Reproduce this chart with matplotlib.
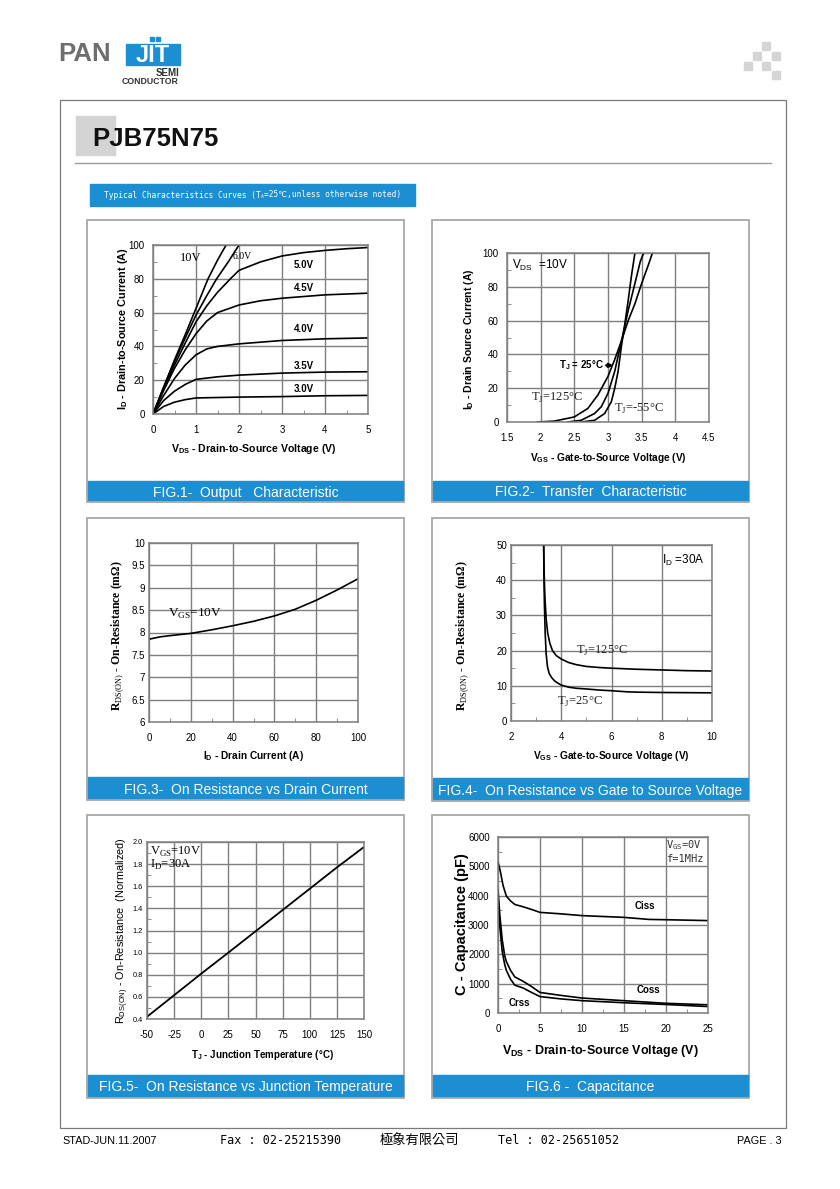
import numpy as np
import matplotlib.pyplot as plt
from matplotlib import font_manager
from matplotlib.patches import Rectangle
from matplotlib.ticker import MultipleLocator, FormatStrFormatter

plt.rcParams['font.family'] = ['Liberation Sans', 'DejaVu Sans']
plt.rcParams['mathtext.fontset'] = 'custom'
plt.rcParams['mathtext.rm'] = 'Liberation Sans'
plt.rcParams['mathtext.bf'] = 'Liberation Sans:bold'
plt.rcParams['mathtext.sf'] = 'Liberation Serif'
plt.rcParams['mathtext.it'] = 'Liberation Sans:italic'
plt.rcParams['axes.unicode_minus'] = False

W, H = 840, 1189
BLUE = '#1c8fd3'
GRID = '#7f7f7f'
FRAME = '#a8a8a8'

# ---- FIG.1 output characteristic (VDS, ID) ----
vgs_labels = ['10V', '6.0V', '5.0V', '4.5V', '4.0V', '3.5V', '3.0V']
vds_10 = [0, 0.25, 0.5, 0.75, 1.0, 1.28, 1.5, 1.7]
id_10 = [0, 16, 32, 47, 62.5, 80, 91, 100]
vds_6 = [0, 0.25, 0.5, 0.75, 1.0, 1.25, 1.48, 1.75, 2.0]
id_6 = [0, 16, 31, 45, 58.5, 70, 80, 90, 100]
vds_5 = [0, 0.25, 0.5, 0.75, 1.0, 1.25, 1.5, 1.8, 2.0, 2.5, 3.0, 3.5, 4.0, 4.5, 5.0]
id_5 = [0, 15, 29, 42, 54.5, 64, 72, 80, 85, 90, 93.5, 95.5, 96.8, 97.8, 98.5]
vds_45 = [0, 0.25, 0.5, 0.75, 1.0, 1.25, 1.5, 2.0, 2.5, 3.0, 4.0, 5.0]
id_45 = [0, 14, 27, 38, 47.5, 55, 60, 64.5, 67, 68.5, 70.5, 71.5]
vds_4 = [0, 0.25, 0.5, 0.75, 1.0, 1.25, 1.5, 2.0, 3.0, 4.0, 5.0]
id_4 = [0, 11, 21, 29, 35, 38.5, 40, 41.5, 43.5, 44.5, 45]
vds_35 = [0, 0.25, 0.5, 0.75, 1.0, 1.5, 2.0, 3.0, 4.0, 5.0]
id_35 = [0, 8, 13.5, 17.5, 20.5, 22, 23, 24.2, 24.8, 25]
vds_3 = [0, 0.25, 0.5, 0.75, 1.0, 2.0, 3.0, 4.0, 5.0]
id_3 = [0, 4.5, 7, 8.5, 9.5, 10, 10.3, 10.8, 11]

# ---- FIG.2 transfer characteristic (VGS, ID) ----
vgs_125 = [1.95, 2.2, 2.5, 2.7, 2.85, 3.0, 3.1, 3.2, 3.3, 3.4, 3.5, 3.6, 3.66]
id_125 = [0, 0.5, 3, 8, 16, 27, 37, 48, 60, 70, 82, 93, 100]
vgs_25 = [2.4, 2.6, 2.8, 2.9, 3.0, 3.1, 3.2, 3.3, 3.4, 3.48, 3.53]
id_25 = [0, 1, 5, 9, 17, 30, 48, 66, 82, 95, 100]
vgs_m55 = [2.6, 2.8, 2.95, 3.05, 3.1, 3.15, 3.2, 3.25, 3.3, 3.35, 3.40]
id_m55 = [0, 1, 5, 12, 20, 30, 45, 58, 72, 87, 100]

# ---- FIG.3 on resistance vs drain current ----
id_fig3 = [0, 5, 10, 20, 30, 40, 50, 60, 70, 80, 90, 100]
rds_fig3 = [7.85, 7.9, 7.93, 7.98, 8.06, 8.15, 8.25, 8.37, 8.52, 8.72, 8.95, 9.2]

# ---- FIG.4 on resistance vs gate voltage ----
vgs4_25 = [3.30, 3.31, 3.33, 3.36, 3.40, 3.45, 3.52, 3.62, 3.75, 3.9, 4.0, 4.3, 4.6,
           5.0, 5.5, 6.0, 6.6, 7.0, 8.0, 9.0, 10.0]
rds4_25 = [50, 42, 33, 25, 19, 15.5, 13.5, 12.3, 11.3, 10.6, 10.2, 9.6, 9.3,
           9.1, 8.8, 8.6, 8.3, 8.2, 8.1, 8.05, 8.0]
vgs4_125 = [3.30, 3.32, 3.35, 3.40, 3.46, 3.55, 3.65, 3.8, 4.0, 4.3, 4.6, 5.0, 5.5,
            6.0, 7.0, 8.0, 9.0, 10.0]
rds4_125 = [50, 42, 35, 29, 25, 22, 20, 18.6, 17.6, 16.6, 16, 15.5, 15.2,
            15.0, 14.7, 14.5, 14.3, 14.2]

# ---- FIG.5 normalized on resistance vs temperature ----
tj = [-50, 0, 25, 75, 125, 150]
rds_norm = [0.42, 0.81, 1.0, 1.385, 1.77, 1.955]

# ---- FIG.6 capacitance ----
ciss_v = [0, 0.3, 0.6, 1, 1.5, 2, 3, 4, 5, 7.5, 10, 15, 18, 20, 25]
ciss = [5150, 4800, 4350, 3980, 3820, 3700, 3620, 3530, 3430, 3380, 3320, 3260, 3190, 3180, 3150]
coss_v = [0, 0.2, 0.5, 0.8, 1, 1.5, 2, 3, 4, 5, 7.5, 10, 15, 20, 25]
coss = [4200, 3400, 2500, 1950, 1750, 1450, 1230, 1080, 900, 700, 600, 510, 420, 330, 280]
crss_v = [0, 0.2, 0.5, 0.8, 1, 1.5, 2, 3, 4, 5, 7.5, 10, 15, 20, 25]
crss = [3900, 3000, 2100, 1650, 1450, 1150, 950, 850, 700, 560, 480, 420, 350, 290, 220]

captions = ['FIG.1-  Output   Characteristic', 'FIG.2-  Transfer  Characteristic',
            'FIG.3-  On Resistance vs Drain Current',
            'FIG.4-  On Resistance vs Gate to Source Voltage',
            'FIG.5-  On Resistance vs Junction Temperature', 'FIG.6 -  Capacitance']

installed = {f.name for f in font_manager.fontManager.ttflist}
if 'Liberation Sans Narrow' in installed:
    NARROW, NARROW_SCALE = 'Liberation Sans Narrow', 1.0
else:
    NARROW, NARROW_SCALE = 'DejaVu Sans Mono', 0.71

fig = plt.figure(figsize=(8.4, 11.89), dpi=100)
bg = fig.add_axes([0, 0, 1, 1])
bg.set_xlim(0, W)
bg.set_ylim(H, 0)
bg.axis('off')
renderer = fig.canvas.get_renderer()


def chain(x, y, parts, **kw):
    # draw text pieces one after another, (string, size, y shift)
    for s, size, dy in parts:
        t = bg.text(x, y + dy, s, fontsize=size, va='center', **kw)
        bb = t.get_window_extent(renderer=renderer)
        x = bg.transData.inverted().transform((bb.x1, bb.y0))[0]
    return x


# header / logo
bg.text(58, 54, 'PAN', fontsize=18.5, fontweight='bold', color='#6e6e6e', va='center')
bg.add_patch(Rectangle((126, 44), 54, 21, color=BLUE))
bg.text(153, 55, 'JIT', fontsize=17, fontweight='bold', color='white', va='center', ha='center')
bg.add_patch(Rectangle((150, 37), 4, 4, color=BLUE))
bg.add_patch(Rectangle((156, 37), 4, 4, color=BLUE))
bg.text(179, 73, 'SEMI', fontsize=7, fontweight='bold', color='#333333', ha='right', va='center')
bg.text(179, 82, 'CONDUCTOR', fontsize=6.3, fontweight='bold', color='#333333', ha='right', va='center')
for sx, sy in [(762, 42), (753, 52), (772, 52), (744, 62), (762, 62), (772, 71)]:
    bg.add_patch(Rectangle((sx, sy), 8, 8, color='#d5d5d5'))

bg.add_patch(Rectangle((60, 100), 726, 1028, fill=False, ec='#7a7a7a', lw=0.9))
bg.add_patch(Rectangle((76, 116), 39, 39, color='#d4d4d4'))
bg.text(92, 139, 'PJB75N75', fontsize=18.5, fontweight='bold', color='#111111', va='center')
bg.plot([75, 771], [163, 163], color='#9a9a9a', lw=1.0)
bg.add_patch(Rectangle((90, 184), 325, 22, color=BLUE))
bsz = 8 * NARROW_SCALE
chain(104, 195, [('Typical Characteristics Curves (T', bsz, 0), ('A', bsz * 0.6, 2),
                 ('=25℃,unless otherwise noted)', bsz, 0)],
      color='white', family=[NARROW, 'DejaVu Sans'])

# panels
panels = [(87, 220, 404, 502, 481), (432, 220, 749, 502, 481),
          (87, 518, 404, 800, 777), (432, 518, 749, 801, 778),
          (87, 815, 404, 1098, 1075), (432, 815, 749, 1098, 1075)]
for (px0, py0, px1, py1, by), cap in zip(panels, captions):
    bg.add_patch(Rectangle((px0, py0), px1 - px0, py1 - py0, fill=False, ec=FRAME, lw=1.3))
    bg.add_patch(Rectangle((px0 + 1, by), px1 - px0 - 2, py1 - by - 2, color=BLUE))
    bg.text((px0 + px1) / 2, (by + py1) / 2 + 1, cap, fontsize=10, color='white',
            ha='center', va='center')


def chart(x0, y0, x1, y1, xlim, ylim, xmaj, ymaj, xmin, ymin, fs=7, ypad=3):
    ax = fig.add_axes([x0 / W, 1 - y1 / H, (x1 - x0) / W, (y1 - y0) / H])
    ax.set_xlim(xlim)
    ax.set_ylim(ylim)
    ax.xaxis.set_major_locator(MultipleLocator(xmaj))
    ax.yaxis.set_major_locator(MultipleLocator(ymaj))
    if xmin:
        ax.xaxis.set_minor_locator(MultipleLocator(xmin))
    if ymin:
        ax.yaxis.set_minor_locator(MultipleLocator(ymin))
    ax.grid(True, which='major', color=GRID, lw=1.0)
    for s in ax.spines.values():
        s.set_color(GRID)
        s.set_linewidth(1.1)
    ax.tick_params(which='both', direction='in', color=GRID, labelsize=fs)
    ax.tick_params(which='major', length=0)
    ax.tick_params(axis='x', which='major', pad=8)
    ax.tick_params(axis='y', which='major', pad=ypad)
    ax.tick_params(which='minor', length=3)
    ax.set_axisbelow(True)
    return ax


# FIG.1
ax1 = chart(153, 245, 368, 414, (0, 5), (0, 100), 1, 20, 0.5, 10, ypad=6)
for vx, iy in [(vds_10, id_10), (vds_6, id_6), (vds_5, id_5), (vds_45, id_45),
               (vds_4, id_4), (vds_35, id_35), (vds_3, id_3)]:
    ax1.plot(vx, iy, color='black', lw=1.2)
ax1.text(0.62, 92.5, vgs_labels[0], fontsize=9, family='Liberation Serif', va='center')
ax1.text(1.85, 93, vgs_labels[1], fontsize=7, family='Liberation Serif', va='center')
for lab, yy in zip(vgs_labels[2:], [88, 74.5, 50, 28.5, 14.8]):
    ax1.text(3.5, yy, lab, fontsize=7, fontweight='bold', ha='center', va='center')
bg.text(254, 449, 'V$_\\mathbf{DS}$ - Drain-to-Source Voltage (V)', fontsize=7.6,
        fontweight='bold', ha='center', va='center')
bg.text(123, 329, 'I$_\\mathbf{D}$ - Drain-to-Source Current (A)', fontsize=7.8,
        fontweight='bold', ha='center', va='center', rotation=90)

# FIG.2
ax2 = chart(507, 253, 709, 422, (1.5, 4.5), (0, 100), 0.5, 20, None, 10, ypad=6)
ax2.xaxis.set_major_formatter(FormatStrFormatter('%g'))
for vx, iy in [(vgs_125, id_125), (vgs_25, id_25), (vgs_m55, id_m55)]:
    ax2.plot(vx, iy, color='black', lw=1.2)
ax2.text(1.57, 92.5, 'V$_\\mathregular{DS}$  =10V', fontsize=8.5, va='center')
ax2.annotate('T$_\\mathbf{J}$ = 25°C', xy=(3.08, 33.5), xytext=(2.27, 33.5), fontsize=7,
             fontweight='bold', va='center',
             arrowprops=dict(arrowstyle='-|>', color='black', lw=1.8, mutation_scale=5,
                             shrinkA=0, shrinkB=0))
ax2.text(1.85, 14, 'T$_\\mathsf{J}$=125°C', fontsize=9, family='Liberation Serif', va='center',
         color='#222222')
ax2.text(3.09, 8, 'T$_\\mathsf{J}$=-55°C', fontsize=9, family='Liberation Serif', va='center',
         color='#222222')
bg.text(608, 458, 'V$_\\mathbf{GS}$ - Gate-to-Source Voltage (V)', fontsize=7.3,
        fontweight='bold', ha='center', va='center')
bg.text(469, 339, 'I$_\\mathbf{D}$ - Drain Source Current (A)', fontsize=7.5,
        fontweight='bold', ha='center', va='center', rotation=90)

# FIG.3
ax3 = chart(149, 543, 358, 722, (0, 100), (6, 10), 20, 0.5, 10, None)
ax3.yaxis.set_major_formatter(FormatStrFormatter('%g'))
ax3.plot(id_fig3, rds_fig3, color='black', lw=1.2)
ax3.text(9, 8.42, 'V$_\\mathsf{GS}$=10V', fontsize=9.5, family='Liberation Serif', va='center')
bg.text(253, 756, 'I$_\\mathbf{D}$ - Drain Current (A)', fontsize=7.3,
        fontweight='bold', ha='center', va='center')
bg.text(118, 636, 'R$_\\mathsf{DS(ON)}$ - On-Resistance (mΩ)', fontsize=8.5,
        fontweight='bold', family='Liberation Serif', ha='center', va='center', rotation=90)

# FIG.4
ax4 = chart(511, 545, 712, 721, (2, 10), (0, 50), 2, 10, 1, 5)
ax4.plot(vgs4_125, rds4_125, color='black', lw=1.2)
ax4.plot(vgs4_25, rds4_25, color='black', lw=1.2)
ax4.text(8.0, 45.5, 'I$_\\mathregular{D}$ =30A', fontsize=8.5, va='center')
ax4.text(4.6, 20, 'T$_\\mathsf{J}$=125°C', fontsize=9, family='Liberation Serif', va='center',
         color='#222222')
ax4.text(3.82, 5.4, 'T$_\\mathsf{J}$=25°C', fontsize=9, family='Liberation Serif', va='center',
         color='#222222')
bg.text(611, 756, 'V$_\\mathbf{GS}$ - Gate-to-Source Voltage (V)', fontsize=7.3,
        fontweight='bold', ha='center', va='center')
bg.text(463, 636, 'R$_\\mathsf{DS(ON)}$ - On-Resistance (mΩ)', fontsize=8.5,
        fontweight='bold', family='Liberation Serif', ha='center', va='center', rotation=90)

# FIG.5
ax5 = chart(147, 842, 364, 1019, (-50, 150), (0.4, 2.0), 25, 0.2, None, 0.1, fs=7)
ax5.yaxis.set_major_formatter(FormatStrFormatter('%.1f'))
ax5.tick_params(axis='y', labelsize=5.3)
ax5.plot(tj, rds_norm, color='black', lw=1.3)
ax5.text(-47, 1.91, 'V$_\\mathsf{GS}$=10V', fontsize=9, family='Liberation Serif', va='center')
ax5.text(-47, 1.79, 'I$_\\mathsf{D}$=30A', fontsize=9, family='Liberation Serif', va='center')
bg.text(262, 1055, 'T$_\\mathbf{J}$ - Junction Temperature (°C)', fontsize=7,
        fontweight='bold', ha='center', va='center')
bg.text(123, 931, 'R$_\\mathrm{DS(ON)}$ - On-Resistance  (Normalized)', fontsize=7.8,
        ha='center', va='center', rotation=90)

# FIG.6
ax6 = chart(498, 837, 708, 1013, (0, 25), (0, 6000), 5, 1000, 2.5, 500, ypad=6)
ax6.plot(ciss_v, ciss, color='black', lw=1.2)
ax6.plot(coss_v, coss, color='black', lw=1.2)
ax6.plot(crss_v, crss, color='black', lw=1.2)
ax6.text(17.5, 3650, 'Ciss', fontsize=7, fontweight='bold', ha='center', va='center')
ax6.text(17.9, 800, 'Coss', fontsize=7, fontweight='bold', ha='center', va='center')
ax6.text(2.6, 330, 'Crss', fontsize=7, fontweight='bold', ha='center', va='center')
ax6.text(20.0, 5720, 'V$_\\mathregular{GS}$=0V', fontsize=7.5, va='center',
         family=['DejaVu Sans Mono', 'DejaVu Sans'], color='#333333')
ax6.text(20.0, 5250, 'f=1MHz', fontsize=7.5, va='center',
         family=['DejaVu Sans Mono', 'DejaVu Sans'], color='#333333')
bg.text(600, 1051, 'V$_\\mathbf{DS}$ - Drain-to-Source Voltage (V)', fontsize=9,
        fontweight='bold', ha='center', va='center')
bg.text(462, 924, 'C - Capacitance (pF)', fontsize=10.5,
        fontweight='bold', ha='center', va='center', rotation=90)

# footer
bg.text(62, 1141, 'STAD-JUN.11.2007', fontsize=7.8, va='center')
fsz = 10.5 * NARROW_SCALE if NARROW != 'DejaVu Sans Mono' else 8.5
bg.text(220, 1141, 'Fax : 02-25215390', fontsize=fsz, va='center',
        family=[NARROW, 'DejaVu Sans'])
bg.text(380, 1141, '極象有限公司', fontsize=9.5, va='center', family=['Noto Sans CJK TC', 'DejaVu Sans'])
bg.text(498, 1141, 'Tel : 02-25651052', fontsize=fsz, va='center',
        family=[NARROW, 'DejaVu Sans'])
bg.text(782, 1141, 'PAGE . 3', fontsize=7.8, va='center', ha='right')

fig.savefig('out.png', dpi=100)
